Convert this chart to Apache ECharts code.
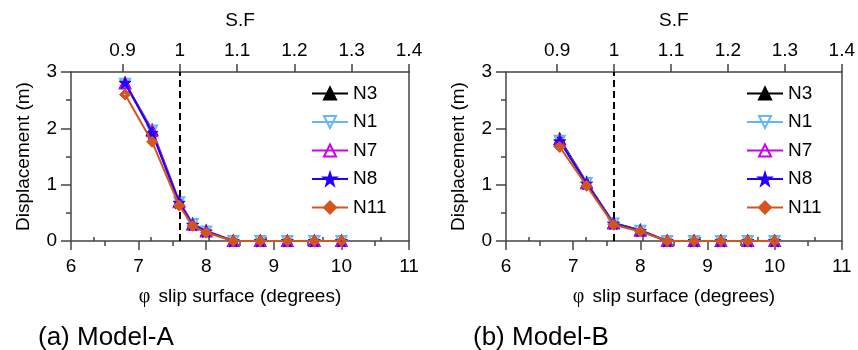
<!DOCTYPE html>
<html>
<head>
<meta charset="utf-8">
<script src="https://cdn.jsdelivr.net/npm/echarts@6/dist/echarts.min.js"></script>
<style>html,body{margin:0;padding:0;background:#fff}#c{width:858px;height:350px}</style>
</head>
<body>
<div id="c"></div>
<script>
// ---- data ----
var seriesNames = ['N3', 'N1', 'N7', 'N8', 'N11'];
var phiA = [6.8, 7.2, 7.6, 7.8, 8.0, 8.4, 8.8, 9.2, 9.6, 10.0];
var A_N3  = [2.80, 1.97, 0.70, 0.30, 0.18, 0, 0, 0, 0, 0];
var A_N1  = [2.79, 1.96, 0.69, 0.30, 0.17, 0, 0, 0, 0, 0];
var A_N7  = [2.80, 1.95, 0.69, 0.29, 0.17, 0, 0, 0, 0, 0];
var A_N8  = [2.81, 1.92, 0.68, 0.29, 0.17, 0, 0, 0, 0, 0];
var A_N11 = [2.60, 1.76, 0.63, 0.27, 0.15, 0, 0, 0, 0, 0];
var phiB = [6.8, 7.2, 7.6, 8.0, 8.4, 8.8, 9.2, 9.6, 10.0];
var B_N3  = [1.81, 1.04, 0.32, 0.19, 0, 0, 0, 0, 0];
var B_N1  = [1.78, 1.03, 0.31, 0.18, 0, 0, 0, 0, 0];
var B_N7  = [1.78, 1.02, 0.31, 0.18, 0, 0, 0, 0, 0];
var B_N8  = [1.77, 1.02, 0.31, 0.18, 0, 0, 0, 0, 0];
var B_N11 = [1.67, 0.98, 0.29, 0.17, 0, 0, 0, 0, 0];
var sfTicks = [0.9, 1, 1.1, 1.2, 1.3, 1.4];
var sfMinorTicks = [0.85, 0.95, 1.05, 1.15, 1.25, 1.35];
var sfRange = [0.81, 1.4];
var phiAtSfOne = 7.61;
var panelTitles = ['(a) Model-A', '(b) Model-B'];

// ---- styles ----
var FONT = 'Liberation Sans, Arial, Helvetica, sans-serif';
var FS = 19;
var AX = '#444';
var styles = {
  N3:  {color: '#000000', symbol: 'triangle', fill: '#000000', size: 10, bw: 2},
  N1:  {color: '#66b8f5', symbol: 'path://M0,0 L10,0 L5,9 Z', fill: 'rgba(255,255,255,0)', size: 10, bw: 2},
  N7:  {color: '#cc00ee', symbol: 'triangle', fill: 'rgba(255,255,255,0)', size: 10, bw: 2},
  N8:  {color: '#2200ff', symbol: 'path://M50,0 L61.8,35.4 L99,35.4 L69,57.3 L80.3,92.7 L50,70.8 L19.7,92.7 L31,57.3 L1,35.4 L38.2,35.4 Z', fill: '#2200ff', size: 12, bw: 1},
  N11: {color: '#d4561c', symbol: 'path://M5,0 L10,5 L5,10 L0,5 Z M5,3.6 L3.6,5 L5,6.4 L6.4,5 Z', fill: '#d4561c', size: 11, bw: 1}
};
var dataA = {N3: A_N3, N1: A_N1, N7: A_N7, N8: A_N8, N11: A_N11};
var dataB = {N3: B_N3, N1: B_N1, N7: B_N7, N8: B_N8, N11: B_N11};

var rects = [
  {left: 71, right: 449, top: 72, bottom: 109},
  {left: 506, right: 15, top: 72, bottom: 109}
];
var grids = rects.concat(rects); // grids 2,3 carry only the minor S.F ticks

var xAxes = [], yAxes = [], series = [], legends = [], titles = [];
var lblStyle = {color: '#000', fontSize: FS, fontFamily: FONT};
var lineSt = {color: AX, width: 1.5};

for (var g = 0; g < 2; g++) {
  xAxes.push({
    gridIndex: g, type: 'value', position: 'bottom', min: 6, max: 11, interval: 1,
    name: '{phi|φ} slip surface (degrees)', nameLocation: 'middle', nameGap: 46,
    nameTextStyle: {color: '#000', fontSize: FS, fontFamily: FONT,
      rich: {phi: {fontFamily: 'Liberation Serif, DejaVu Serif, serif', fontSize: FS + 1, padding: [0, 3, 0, 0]}}},
    axisLine: {show: true, onZero: false, lineStyle: lineSt},
    axisTick: {show: true, length: 9, lineStyle: lineSt},
    minorTick: {show: true, splitNumber: 2, length: 5, lineStyle: lineSt},
    axisLabel: Object.assign({margin: 16}, lblStyle),
    splitLine: {show: false}, minorSplitLine: {show: false}
  });
  xAxes.push({
    gridIndex: g, type: 'value', position: 'top', min: sfRange[0], max: sfRange[1],
    name: 'S.F', nameLocation: 'middle', nameGap: 42,
    nameTextStyle: {color: '#000', fontSize: FS, fontFamily: FONT},
    axisLine: {show: true, onZero: false, lineStyle: lineSt},
    axisTick: {show: true, length: 8, customValues: sfTicks, lineStyle: lineSt},
    axisLabel: Object.assign({margin: 12, customValues: sfTicks, formatter: function (v) { return String(Math.round(v * 10) / 10); }}, lblStyle),
    splitLine: {show: false}
  });
  yAxes.push({
    gridIndex: g, type: 'value', position: 'left', min: 0, max: 3, interval: 1,
    name: 'Displacement (m)', nameLocation: 'middle', nameGap: 38, nameRotate: 90,
    nameTextStyle: {color: '#000', fontSize: FS, fontFamily: FONT},
    axisLine: {show: true, onZero: false, lineStyle: lineSt},
    axisTick: {show: true, length: 10, lineStyle: lineSt},
    minorTick: {show: true, splitNumber: 2, length: 5, lineStyle: lineSt},
    axisLabel: Object.assign({margin: 14}, lblStyle),
    splitLine: {show: false}, minorSplitLine: {show: false}
  });
  yAxes.push({
    gridIndex: g, type: 'value', position: 'right', min: 0, max: 3,
    axisLine: {show: true, onZero: false, lineStyle: lineSt},
    axisTick: {show: false}, axisLabel: {show: false}, splitLine: {show: false}
  });

  var xs = g === 0 ? phiA : phiB;
  var dd = g === 0 ? dataA : dataB;
  seriesNames.forEach(function (nm, k) {
    var st = styles[nm];
    var s = {
      name: nm, type: 'line', xAxisIndex: g * 2, yAxisIndex: g * 2,
      data: xs.map(function (x, i) { return [x, dd[nm][i]]; }),
      symbol: st.symbol, symbolSize: st.size, showAllSymbol: true,
      lineStyle: {color: st.color, width: 2},
      itemStyle: {color: st.fill, borderColor: st.color, borderWidth: st.bw},
      z: 2 + k
    };
    if (k === 0) {
      s.markLine = {
        silent: true, symbol: ['none', 'none'], label: {show: false},
        lineStyle: {color: '#000', type: [7, 4], width: 2},
        data: [{xAxis: phiAtSfOne}]
      };
    }
    series.push(s);
  });

  legends.push({
    data: seriesNames, orient: 'vertical',
    left: g === 0 ? 306 : 741, top: 79,
    itemWidth: 36, itemHeight: 15, itemGap: 9.5,
    textStyle: {color: '#000', fontSize: FS, fontFamily: FONT},
    selectedMode: false
  });
  titles.push({
    text: panelTitles[g], left: g === 0 ? 33 : 468, top: 320,
    textStyle: {color: '#000', fontSize: 26, fontWeight: 'normal', fontFamily: FONT}
  });
}
for (var h = 0; h < 2; h++) {
  xAxes.push({
    gridIndex: 2 + h, type: 'value', position: 'top', min: sfRange[0], max: sfRange[1],
    axisLine: {show: false},
    axisTick: {show: true, length: 4, customValues: sfMinorTicks, lineStyle: lineSt},
    axisLabel: {show: false}, splitLine: {show: false}
  });
  yAxes.push({
    gridIndex: 2 + h, type: 'value', min: 0, max: 3, show: false
  });
}

var chart = echarts.init(document.getElementById('c'), null, {renderer: 'canvas'});
chart.setOption({
  animation: false,
  backgroundColor: '#fff',
  title: titles,
  grid: grids,
  xAxis: xAxes,
  yAxis: yAxes,
  legend: legends,
  series: series
});
</script>
</body>
</html>
